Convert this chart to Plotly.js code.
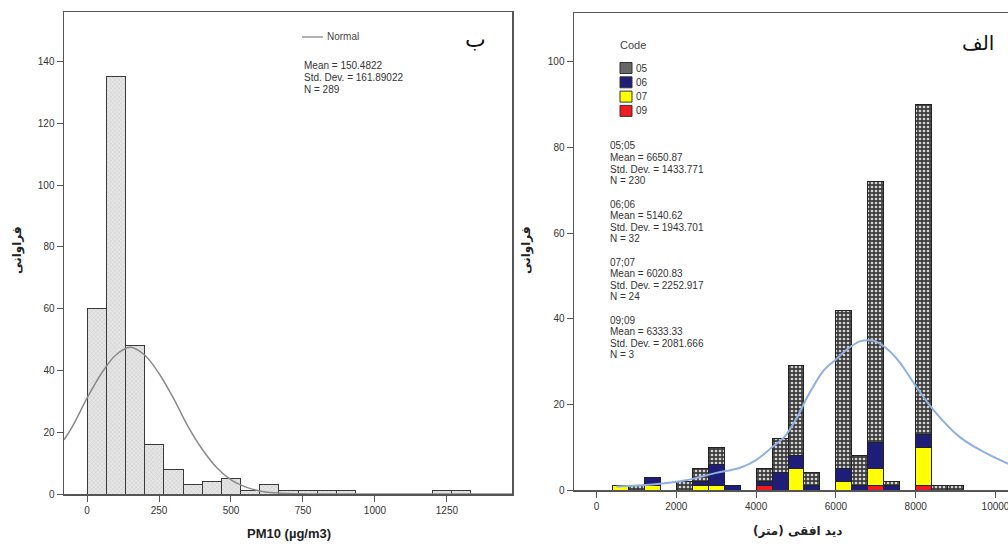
<!DOCTYPE html>
<html>
<head>
<meta charset="utf-8">
<script src="https://cdn.plot.ly/plotly-3.0.1.min.js"></script>
<style>html,body{margin:0;padding:0;background:#fff;}#chart{width:1008px;height:544px;}</style>
</head>
<body>
<div id="chart"></div>
<script>
// ---------- Left panel (ب): PM10 histogram ----------
const pm10BinStart = [0, 66.67, 133.33, 200, 266.67, 333.33, 400, 466.67, 533.33, 600, 666.67, 733.33, 800, 866.67, 1200, 1266.67];
const pm10Counts   = [60, 135, 48, 16, 8, 3, 4, 5, 1, 3, 1, 1, 1, 1, 1, 1];
const pm10BinWidth = 66.67;
// Normal curve
const pm10NormX = [-80, -50, 0, 50, 100, 150, 200, 250, 300, 350, 400, 450, 500, 550, 600, 650, 700, 750, 800, 900, 1100, 1476];
const pm10NormY = [17.5, 22, 31, 39, 45, 47.5, 45, 39, 31, 22, 14.5, 8.6, 4.6, 2.3, 1.0, 0.4, 0.15, 0.05, 0.01, 0, 0, 0];
const pm10Stats = ["Mean = 150.4822", "Std. Dev. = 161.89022", "N = 289"];
const pm10YTicks = [0, 20, 40, 60, 80, 100, 120, 140];
const pm10XTicks = [0, 250, 500, 750, 1000, 1250];

// ---------- Right panel (الف): visibility stacked histogram ----------
const visBinStart = [400, 800, 1200, 1600, 2000, 2400, 2800, 3200, 3600, 4000, 4400, 4800, 5200, 5600, 6000, 6400, 6800, 7200, 7600, 8000, 8400, 8800];
const visBinWidth = 400;
const code05 = [0, 1, 0, 0, 2, 3, 4, 0, 0, 3, 8, 21, 3, 0, 37, 7, 61, 1, 0, 77, 1, 1];
const code06 = [0, 0, 2, 0, 0, 1, 5, 1, 0, 1, 4, 3, 1, 0, 3, 1, 6, 1, 0, 3, 0, 0];
const code07 = [1, 0, 1, 0, 0, 1, 1, 0, 0, 0, 0, 5, 0, 0, 2, 0, 4, 0, 0, 9, 0, 0];
const code09 = [0, 0, 0, 0, 0, 0, 0, 0, 0, 1, 0, 0, 0, 0, 0, 0, 1, 0, 0, 1, 0, 0];
const codeNames = ["05", "06", "07", "09"];
const visCurveX = [500, 1400, 2200, 3000, 3600, 4000, 4400, 4700, 5000, 5300, 5700, 6000, 6300, 6600, 6800, 7000, 7300, 7600, 7900, 8400, 9100, 9700, 10400];
const visCurveY = [0.8, 1.3, 2.2, 4.0, 5.2, 7.0, 10.0, 12.3, 16.5, 22.0, 28.0, 30.5, 33.0, 34.7, 35.0, 34.7, 32.8, 29.8, 25.7, 19.2, 12.4, 8.9, 5.8];
const visStats = [
  ["05;05", "Mean = 6650.87", "Std. Dev. = 1433.771", "N = 230"],
  ["06;06", "Mean = 5140.62", "Std. Dev. = 1943.701", "N = 32"],
  ["07;07", "Mean = 6020.83", "Std. Dev. = 2252.917", "N = 24"],
  ["09;09", "Mean = 6333.33", "Std. Dev. = 2081.666", "N = 3"]
];
const visYTicks = [0, 20, 40, 60, 80, 100];
const visXTicks = [0, 2000, 4000, 6000, 8000, 10000];
const visXTickText = ["0", "2000", "4000", "6000", "8000", "10000"];

// ---------- helpers (layout positions in pixels -> paper) ----------
const W = 1008, H = 544;
const px = x => x / W;
const py = y => 1 - y / H;
const nz = a => a.map(v => v === 0 ? null : v);
const mid = (starts, w) => starts.map(s => s + w / 2);

const FONT = "Liberation Sans, Arial, sans-serif";
const AR = "DejaVu Sans, Noto Sans, sans-serif";
const frame = '#555';

const traces = [];
traces.push({
  type: 'bar', x: mid(pm10BinStart, pm10BinWidth), y: pm10Counts, width: pm10BinWidth,
  xaxis: 'x', yaxis: 'y', showlegend: false, hoverinfo: 'x+y',
  marker: { color: '#e2e2e2', line: { color: '#3a3a3a', width: 1 },
            pattern: { shape: 'x', fgcolor: '#c4c4c4', bgcolor: '#e6e6e6', size: 3, solidity: 0.25 } }
});
traces.push({
  type: 'scatter', mode: 'lines', x: pm10NormX, y: pm10NormY, xaxis: 'x', yaxis: 'y',
  line: { color: '#8a8a8a', width: 1.5, shape: 'spline' }, showlegend: false, name: 'Normal'
});

const codeSeries = [code09, code07, code06, code05];
const codeLabels = ["09", "07", "06", "05"];
const codeMarkers = [
  { color: '#f01a22', line: { color: '#222', width: 1 } },
  { color: '#ffff00', line: { color: '#222', width: 1 } },
  { color: '#1e1e78', line: { color: '#222', width: 1 } },
  { color: '#777', line: { color: '#222', width: 1 },
    pattern: { shape: '.', fgcolor: '#d4d4d4', bgcolor: '#3c3c3c', size: 4, solidity: 0.36 } }
];
codeSeries.forEach((s, i) => {
  traces.push({
    type: 'bar', x: mid(visBinStart, visBinWidth), y: nz(s), width: visBinWidth,
    xaxis: 'x2', yaxis: 'y2', name: codeLabels[i], showlegend: false,
    marker: codeMarkers[i]
  });
});
traces.push({
  type: 'scatter', mode: 'lines', x: visCurveX, y: visCurveY, xaxis: 'x2', yaxis: 'y2',
  line: { color: '#8fb0e0', width: 2, shape: 'spline' }, showlegend: false, hoverinfo: 'skip'
});

const tickFont = { family: FONT, size: 10, color: '#333' };
const axBase = {
  showgrid: false, zeroline: false, showline: true, linecolor: frame, linewidth: 1.5,
  ticks: 'outside', ticklen: 6, tickcolor: frame, tickwidth: 1, tickfont: tickFont,
  automargin: false, fixedrange: true, ticklabeloverflow: 'allow'
};

const annotations = [];
const shapes = [];
function txt(text, x, y, opts) {
  annotations.push(Object.assign({
    text: text, x: px(x), y: py(y), xref: 'paper', yref: 'paper',
    xanchor: 'left', yanchor: 'middle', showarrow: false,
    font: { family: FONT, size: 10, color: '#333' }
  }, opts || {}));
}
// Left panel texts
shapes.push({ type: 'line', xref: 'paper', yref: 'paper', x0: px(302), x1: px(323), y0: py(37), y1: py(37), line: { color: '#999', width: 1.5 } });
txt('Normal', 325, 37, { font: { family: FONT, size: 10, color: '#444' } });
pm10Stats.forEach((t, i) => txt(t, 302, 65 + i * 12.3));
txt('ب', 475, 40, { xanchor: 'center', font: { family: AR, size: 22, color: '#111' } });
txt('<b>PM10 (µg/m3)</b>', 289, 533, { xanchor: 'center', font: { family: FONT, size: 13, color: '#222' } });
txt('<b>فراوانی</b>', 18, 250, { xanchor: 'center', textangle: -90, font: { family: AR, size: 12, color: '#222' } });

// Right panel texts
txt('الف', 978, 43, { xanchor: 'center', font: { family: AR, size: 20, color: '#111' } });
txt('Code', 618, 45, { font: { family: FONT, size: 11, color: '#444' } });
const legendOrder = ["05", "06", "07", "09"];
const legendFill = ['#666', '#1e1e78', '#ffff00', '#f01a22'];
legendOrder.forEach((c, i) => {
  const yc = 68 + i * 14.3;
  shapes.push({ type: 'rect', xref: 'paper', yref: 'paper', x0: px(620), x1: px(632), y0: py(yc - 5.5), y1: py(yc + 5.5),
    fillcolor: legendFill[i], line: { color: '#333', width: 1 } });
  txt(c, 634, yc, { font: { family: FONT, size: 10, color: '#333' } });
});
visStats.forEach((block, b) => {
  block.forEach((t, i) => txt(t, 608, 146 + b * 58 + i * 11.6));
});
txt('<b>دید افقی (متر)</b>', 797, 531, { xanchor: 'center', font: { family: AR, size: 12, color: '#222' } });
txt('<b>فراوانی</b>', 527, 250, { xanchor: 'center', textangle: -90, font: { family: AR, size: 12, color: '#222' } });

const layout = {
  width: W, height: H, margin: { l: 0, r: 0, t: 0, b: 0 },
  paper_bgcolor: '#fff', plot_bgcolor: '#fff', barmode: 'stack', bargap: 0,
  showlegend: false, font: { family: FONT },
  xaxis: Object.assign({}, axBase, { domain: [px(64), px(512)], range: [-80, 1476], tickvals: pm10XTicks, mirror: true, anchor: 'y' }),
  yaxis: Object.assign({}, axBase, { domain: [py(494), py(12)], range: [0, 156], tickvals: pm10YTicks, mirror: true, anchor: 'x' }),
  xaxis2: Object.assign({}, axBase, { domain: [px(574), 1], range: [-564, 10313], tickvals: visXTicks, ticktext: visXTickText, mirror: true, anchor: 'y2' }),
  yaxis2: Object.assign({}, axBase, { domain: [py(490), py(13)], range: [0, 111.4], tickvals: visYTicks, mirror: false, anchor: 'x2' }),
  annotations: annotations, shapes: shapes
};

Plotly.newPlot('chart', traces, layout, { displayModeBar: false, staticPlot: true });
</script>
</body>
</html>
